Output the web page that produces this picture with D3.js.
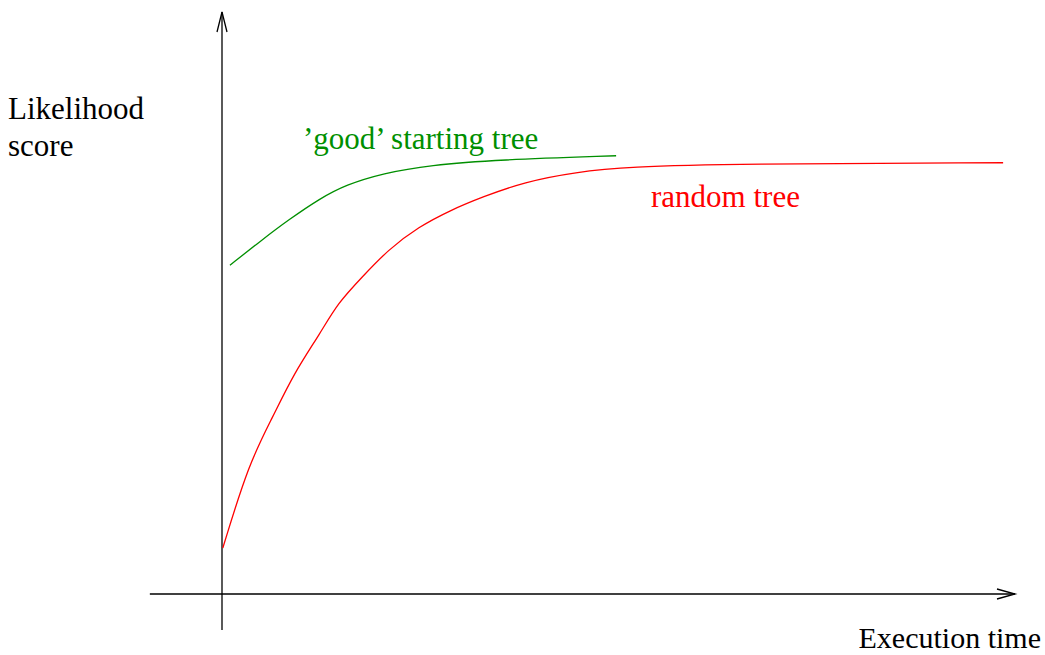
<!DOCTYPE html>
<html>
<head>
<meta charset="utf-8">
<script src="https://cdn.jsdelivr.net/npm/d3@7"></script>
<style>
  html, body { margin: 0; padding: 0; background: #fff; }
  svg { display: block; }
  text { font-family: "Liberation Serif", "DejaVu Serif", serif; }
</style>
</head>
<body>
<svg id="chart" width="1045" height="655"></svg>
<script>
// ---- data (time units 0-100, likelihood units 0-100) ----
const randomTime  = [0.1, 3.4, 6.4, 9.1, 12.4, 14.6, 17.7, 20.9, 24.8, 28.9, 32.8, 38.1, 44.6, 51.3, 64.6, 98.5];
const randomScore = [7.9, 22.5, 30.4, 38.0, 44.8, 50.0, 54.5, 59.1, 63.1, 66.0, 68.2, 70.8, 72.5, 73.4, 73.9, 74.1];
const goodTime    = [1.0, 5.0, 8.4, 12.4, 15.6, 20.3, 26.2, 34.8, 49.7];
const goodScore   = [56.5, 60.8, 64.3, 68.0, 70.3, 72.3, 73.7, 74.6, 75.3];
const seriesNames = ["\u2019good\u2019 starting tree", "random tree"];
const axisLabels  = ["Likelihood", "score", "Execution time"];

// ---- scales ----
const svg = d3.select("#chart");
const x = d3.scaleLinear().domain([0, 100]).range([222, 1015]);
const y = d3.scaleLinear().domain([0, 100]).range([594, 12]);

const axisColor = "#000";
// y axis: vertical line with open arrow
svg.append("line")
  .attr("x1", x(0)).attr("x2", x(0))
  .attr("y1", y(-6.2)).attr("y2", y(100))
  .attr("stroke", axisColor).attr("stroke-width", 1.3);
svg.append("path")
  .attr("d", d3.line()([[x(0) - 5, y(100) + 20], [x(0), y(100)], [x(0) + 5, y(100) + 20]]))
  .attr("fill", "none").attr("stroke", axisColor).attr("stroke-width", 1.3);

// x axis: horizontal line with open arrow
svg.append("line")
  .attr("x1", x(-9.1)).attr("x2", x(100))
  .attr("y1", y(0)).attr("y2", y(0))
  .attr("stroke", axisColor).attr("stroke-width", 1.3);
svg.append("path")
  .attr("d", d3.line()([[x(100) - 18, y(0) - 5], [x(100), y(0)], [x(100) - 18, y(0) + 5]]))
  .attr("fill", "none").attr("stroke", axisColor).attr("stroke-width", 1.3);

// ---- curves ----
const line = d3.line().x(d => x(d[0])).y(d => y(d[1])).curve(d3.curveBasis);
const redPts = randomTime.map((t, i) => [t, randomScore[i]]);
const greenPts = goodTime.map((t, i) => [t, goodScore[i]]);

svg.append("path").attr("d", line(redPts))
  .attr("fill", "none").attr("stroke", "#ff0000").attr("stroke-width", 1.3);
svg.append("path").attr("d", line(greenPts))
  .attr("fill", "none").attr("stroke", "#008f00").attr("stroke-width", 1.3);

// ---- labels ----
const fs = 31;
svg.append("text").attr("x", 8).attr("y", 119).attr("font-size", fs).attr("fill", "#000").text(axisLabels[0]);
svg.append("text").attr("x", 8).attr("y", 156).attr("font-size", fs).attr("fill", "#000").text(axisLabels[1]);
svg.append("text").attr("x", 1041).attr("y", 648).attr("text-anchor", "end").attr("font-size", 30).attr("fill", "#000").text(axisLabels[2]);
svg.append("text").attr("x", 303).attr("y", 149).attr("font-size", fs).attr("fill", "#008f00").text(seriesNames[0]);
svg.append("text").attr("x", 651).attr("y", 207).attr("font-size", fs).attr("fill", "#ff0000").text(seriesNames[1]);
</script>
</body>
</html>
